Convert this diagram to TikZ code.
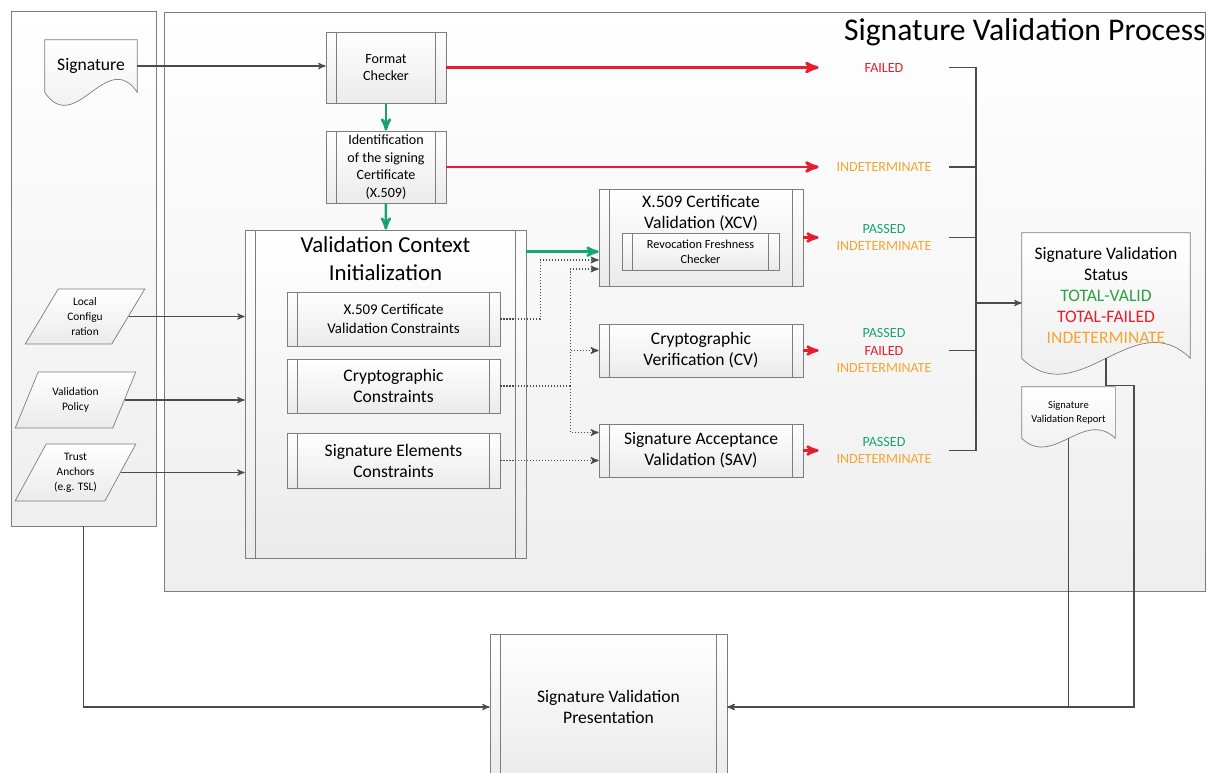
\documentclass[tikz,border=0pt]{standalone}
\usepackage{fontspec}
\setmainfont{Carlito}
\usepackage{xcolor}
\usepackage{tikz}
\usetikzlibrary{positioning,arrows,calc,shapes.geometric,backgrounds}

\definecolor{sigred}{RGB}{230,30,45}
\definecolor{siggreen}{RGB}{25,165,115}
\definecolor{validgreen}{RGB}{45,160,65}
\definecolor{sigorange}{RGB}{245,165,50}
\definecolor{boxgray}{RGB}{125,125,125}
\definecolor{linegray}{RGB}{75,75,75}

% outline of a document shape (node name, wave depth)
\newcommand{\docshape}[2]{%
  \draw[draw=boxgray,top color=white,bottom color=gray!16]
    (#1.south west) -- (#1.north west) -- (#1.north east) -- (#1.south east)
    .. controls ($(#1.south east)!0.333!(#1.south west)+(0,-#2)$)
    and ($(#1.south east)!0.667!(#1.south west)+(0,#2)$) .. (#1.south west) -- cycle;}

\begin{document}
\begin{tikzpicture}[x=0.02cm,y=-0.02cm,>=stealth',
  panel/.style={draw=boxgray,top color=white,bottom color=gray!13,inner sep=0pt},
  proc/.style={draw=boxgray,top color=white,bottom color=gray!16,align=center,inner sep=0pt,
    font=\fontsize{10}{12}\selectfont,
    path picture={\draw[boxgray]
      ([xshift=6pt]path picture bounding box.north west) -- ([xshift=6pt]path picture bounding box.south west)
      ([xshift=-6pt]path picture bounding box.north east) -- ([xshift=-6pt]path picture bounding box.south east);}},
  doc/.style={align=center,inner sep=0pt},
  data/.style={trapezium,trapezium left angle=60,trapezium right angle=120,trapezium stretches=true,
    draw=boxgray,top color=white,bottom color=gray!16,align=center,inner sep=0pt,
    font=\fontsize{6.5}{8.5}\selectfont},
  result/.style={minimum width=2.6cm,align=center,inner sep=0pt,font=\fontsize{8}{10}\selectfont},
  flow/.style={->,draw=linegray,line width=0.6pt},
  failpath/.style={->,draw=sigred,line width=1.6pt},
  okpath/.style={->,draw=siggreen,line width=1.4pt},
  cons/.style={->,draw=linegray,densely dotted,line width=0.7pt},
  bus/.style={draw=linegray,line width=0.6pt}]

  \useasboundingbox (0,0) rectangle (1211,772);

  % The panels
  \begin{pgfonlayer}{background}
    \node [panel,minimum width=2.9cm,minimum height=10.3cm] at (83.5,268.5) (inputs) {};
    \node [panel,minimum width=20.82cm,minimum height=11.58cm] at (684.5,301.5) (process) {};
  \end{pgfonlayer}
  \node [anchor=east,inner sep=0pt,font=\fontsize{18}{21}\selectfont] at (1206,32) (title) {Signature Validation Process};

  % The inputs
  \node [doc,minimum width=1.84cm,minimum height=1.04cm,font=\fontsize{10}{12}\selectfont] at (91,66) (sig) {Signature};
  \node [data,minimum width=2.4cm,minimum height=1.1cm] at (85,316.5) (loc) {Local\\Configu\\ration};
  \node [data,minimum width=2.42cm,minimum height=1.12cm] at (75.5,400) (pol) {Validation\\Policy};
  \node [data,minimum width=2.42cm,minimum height=1.14cm] at (75.5,472.5) (anch) {Trust\\Anchors\\(e.g. TSL)};

  % The checks
  \node [proc,minimum width=2.4cm,minimum height=1.42cm,font=\fontsize{8}{10}\selectfont] at (386,67.5) (fmt) {Format\\Checker};
  \node [proc,minimum width=2.4cm,minimum height=1.44cm,font=\fontsize{8}{10}\selectfont] at (386,167) (ident) {Identification\\of the signing\\Certificate\\(X.509)};

  \node [proc,minimum width=5.62cm,minimum height=6.56cm] at (385.5,394) (vci) {};
  \node [inner sep=0pt,align=center,font=\fontsize{13}{16}\selectfont] at (385.5,259) (vcititle) {Validation Context\\Initialization};
  \node [proc,minimum width=4.26cm,minimum height=1.08cm,font=\fontsize{8.5}{11}\selectfont] at (393.5,319) (xcons) {X.509 Certificate\\Validation Constraints};
  \node [proc,minimum width=4.26cm,minimum height=1.08cm] at (393.5,386) (ccons) {Cryptographic\\Constraints};
  \node [proc,minimum width=4.26cm,minimum height=1.1cm] at (393.5,460.5) (scons) {Signature Elements\\Constraints};

  \node [proc,minimum width=4.08cm,minimum height=1.94cm] at (701,237.5) (xcv) {};
  \node [inner sep=0pt,align=center,font=\fontsize{10}{12}\selectfont] at (701,213.5) (xcvtitle) {X.509 Certificate\\Validation (XCV)};
  \node [proc,minimum width=3.14cm,minimum height=0.74cm,font=\fontsize{7}{8.5}\selectfont] at (700.5,251.5) (rfc) {Revocation Freshness\\Checker};
  \node [proc,minimum width=4.08cm,minimum height=1.06cm] at (701,350.5) (cv) {Cryptographic\\Verification (CV)};
  \node [proc,minimum width=4.08cm,minimum height=1.06cm] at (701,450.5) (sav) {Signature Acceptance\\Validation (SAV)};

  % The results
  \node [result] at (884,67.5) (failed) {\color{sigred}FAILED};
  \node [result] at (884,167) (indet) {\color{sigorange}INDETERMINATE};
  \node [result] at (884,237.5) (xcvres) {{\color{siggreen}PASSED}\\{\color{sigorange}INDETERMINATE}};
  \node [result] at (884,350.5) (cvres) {{\color{siggreen}PASSED}\\{\color{sigred}FAILED}\\{\color{sigorange}INDETERMINATE}};
  \node [result] at (884,450.5) (savres) {{\color{siggreen}PASSED}\\{\color{sigorange}INDETERMINATE}};
  \coordinate (collect) at (976,303);

  \node [doc,minimum width=3.36cm,minimum height=2.5cm,font=\fontsize{10}{12}\selectfont] at (1106,295.5) (status)
    {Signature Validation\\Status\\{\color{validgreen}TOTAL-VALID}\\{\color{sigred}TOTAL-FAILED}\\{\color{sigorange}INDETERMINATE}};
  \node [doc,minimum width=1.86cm,minimum height=1.02cm,font=\fontsize{6}{8}\selectfont] at (1068.5,412.5) (report) {Signature\\Validation Report};

  \node [proc,minimum width=4.74cm,minimum height=2.92cm] at (608.5,707) (pres) {Signature Validation\\Presentation};

  \begin{pgfonlayer}{background}
    \docshape{sig}{45}
    \docshape{status}{55}
    \docshape{report}{30}
  \end{pgfonlayer}

  % Graph edges
  \draw [flow] (sig.east) -- (sig.east -| fmt.west);
  \draw [flow] (loc.east) -- (loc.east -| vci.west);
  \draw [flow] (pol.east) -- (pol.east -| vci.west);
  \draw [flow] (anch.east) -- (anch.east -| vci.west);

  \path [okpath]
  (fmt) edge (ident)
  (ident) edge (vci);
  \draw [okpath] ($(vci.north east)+(0,22)$) coordinate (vciout) -- (vciout -| xcv.west);

  \draw [failpath] (fmt.east) -- (fmt.east -| failed.west);
  \draw [failpath] (ident.east) -- (ident.east -| indet.west);
  \path [failpath,line width=1.4pt]
  (xcv) edge (xcvres)
  (cv) edge (cvres)
  (sav) edge (savres);

  % constraints to the checks
  \draw [cons] (xcons.east) -- ++(40,0) |- ($(xcv.west)+(0,22.5)$);
  \draw [cons,-] (ccons.east) -- ++(70,0) coordinate (split);
  \draw [cons] (split) |- ($(xcv.west)+(0,31.5)$);
  \draw [cons] (split) |- (cv.west);
  \draw [cons] (split) |- ($(sav.west)+(0,-18)$);
  \draw [cons] (scons.east) -- (scons.east -| sav.west);

  % results to the status
  \draw [bus] (failed.east) -| (collect);
  \draw [bus] (indet.east) -| (collect);
  \draw [bus] (xcvres.east) -| (collect);
  \draw [bus] (cvres.east) -| (collect);
  \draw [bus] (savres.east) -| (collect);
  \draw [flow] (collect) -- (collect -| status.west);

  % presentation
  \draw [flow] (inputs.south) |- (pres.west);
  \draw [flow] (status.south) -- ++(0,27) -- ++(28,0) |- (pres.east);
  \draw [flow] (report.south) |- (pres.east);

\end{tikzpicture}
\end{document}
